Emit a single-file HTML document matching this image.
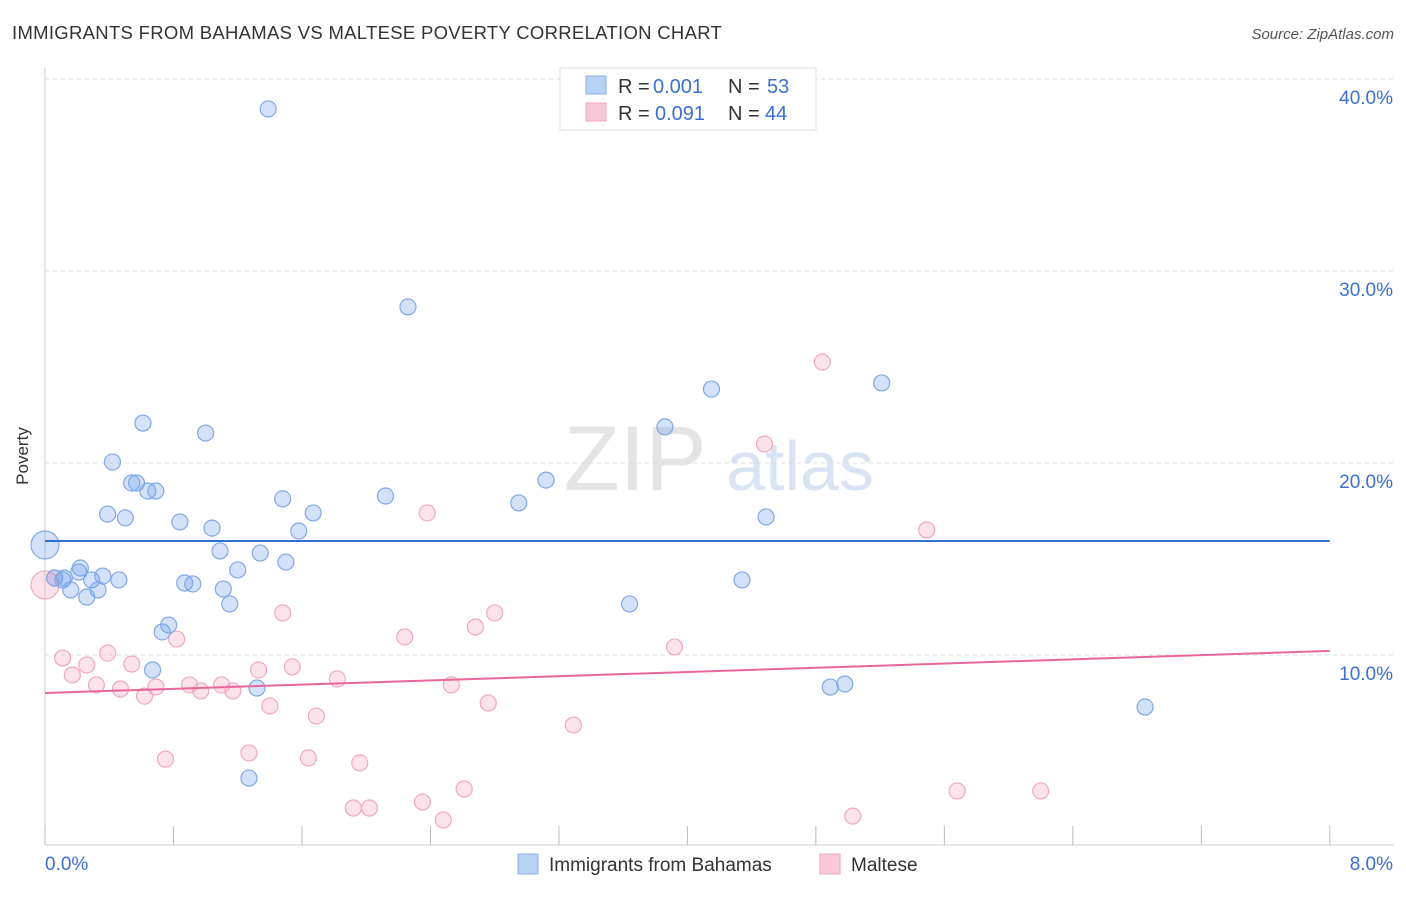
<!DOCTYPE html>
<html><head><meta charset="utf-8"><style>
body{margin:0;background:#fff;font-family:"Liberation Sans",sans-serif}
svg text{font-family:"Liberation Sans",sans-serif}
</style></head><body>
<svg id="c" width="1406" height="892" viewBox="0 0 1406 892">
<text x="12" y="39" font-size="18.5" letter-spacing="0.3" fill="#333">IMMIGRANTS FROM BAHAMAS VS MALTESE POVERTY CORRELATION CHART</text>
<text x="1394" y="39" font-size="15" fill="#555" font-style="italic" text-anchor="end">Source: ZipAtlas.com</text>
<text x="28" y="456" font-size="17" fill="#333" text-anchor="middle" transform="rotate(-90 28 456)">Poverty</text>
<g><text x="635" y="490" font-size="92" fill="#e4e4e4" font-family="Liberation Serif" text-anchor="middle">ZIP</text><text x="800" y="490" font-size="70" fill="#d8e4f4" text-anchor="middle">atlas</text></g>
<g id="grid"></g><g id="marks"></g>
<g>
<rect x="560" y="68" width="256" height="62" fill="#fff" stroke="#ddd"/>
<rect x="586" y="76" width="20" height="18" fill="#b8d2f4" stroke="#8ab0e8"/>
<text x="618" y="93" font-size="20" fill="#333">R =</text>
<text x="653" y="93" font-size="20" fill="#3b6fd0">0.001</text>
<text x="728" y="93" font-size="20" fill="#333">N =</text>
<text x="767" y="93" font-size="20" fill="#3b6fd0">53</text>
<rect x="586" y="103" width="20" height="18" fill="#f8c8d8" stroke="#f0a8c0"/>
<text x="618" y="120" font-size="20" fill="#333">R =</text>
<text x="655" y="120" font-size="20" fill="#3b6fd0">0.091</text>
<text x="728" y="120" font-size="20" fill="#333">N =</text>
<text x="765" y="120" font-size="20" fill="#3b6fd0">44</text>
</g>
<g>
<rect x="518" y="854" width="20" height="20" fill="#b8d2f4" stroke="#8ab0e8"/>
<text x="549" y="871" font-size="19" fill="#333">Immigrants from Bahamas</text>
<rect x="820" y="854" width="20" height="20" fill="#f8c8d8" stroke="#f0a8c0"/>
<text x="851" y="871" font-size="19" fill="#333">Maltese</text>
</g>
</svg>
<script>
const blueX=[0.00,0.06,0.11,0.16,0.12,0.21,0.22,0.26,0.29,0.33,0.36,0.39,0.42,0.46,0.50,0.54,0.57,0.61,0.64,0.69,0.73,0.77,0.67,0.84,0.87,0.92,1.00,1.04,1.09,1.11,1.15,1.20,1.27,1.32,1.34,1.39,1.48,1.50,1.58,1.67,2.12,2.26,2.95,3.12,3.64,3.86,4.15,4.34,4.49,4.89,4.98,5.21,6.85];
const blueY=[15.73,14.01,13.91,13.39,14.01,14.32,14.53,13.02,13.91,13.39,14.11,17.34,20.05,13.91,17.14,18.96,18.96,22.08,18.54,18.54,11.20,11.56,9.22,16.93,13.75,13.70,21.56,16.61,15.42,13.44,12.66,14.43,3.59,8.28,15.31,38.44,18.13,14.84,16.46,17.40,18.28,28.13,17.92,19.11,12.66,21.88,23.85,13.91,17.19,8.33,8.49,24.17,7.29];
const pinkX=[0.00,0.06,0.11,0.17,0.26,0.32,0.39,0.47,0.54,0.62,0.69,0.75,0.82,0.90,0.97,1.10,1.17,1.27,1.33,1.40,1.48,1.54,1.64,1.69,1.82,1.92,1.96,2.02,2.24,2.35,2.38,2.48,2.53,2.61,2.68,2.76,2.80,3.29,3.92,4.48,4.84,5.03,5.49,5.68,6.20];
const pinkY=[13.65,14.01,9.84,8.96,9.48,8.44,10.10,8.23,9.53,7.86,8.33,4.58,10.83,8.44,8.13,8.44,8.13,4.90,9.22,7.34,12.19,9.38,4.64,6.82,8.75,2.03,4.38,2.03,10.94,2.34,17.40,1.41,8.44,3.02,11.46,7.50,12.19,6.35,10.42,20.99,25.26,1.61,16.51,2.92,2.92];
const blueTrend=[15.94,0.0];
const pinkTrend=[8.02,0.274];
const yTicks=[10,20,30,40];
const xTickLabels=["0.0%","8.0%"];
const NS="http://www.w3.org/2000/svg";
const X=v=>45+v*160.6, Y=v=>847-v*19.2;
function mk(p,t,a){const e=document.createElementNS(NS,t);for(const k in a)e.setAttribute(k,a[k]);p.appendChild(e);return e;}
const g=document.getElementById('grid'),m=document.getElementById('marks');
let ax=mk(g,'line',{x1:45,y1:68,x2:45,y2:845,stroke:'#ccc'});


let bx=mk(g,'line',{x1:45,y1:845,x2:1394,y2:845,stroke:'#ccc'});


yTicks.forEach(t=>{
 const l=mk(g,'line',{x1:45,y1:Y(t),x2:1394,y2:Y(t),stroke:'#ddd','stroke-dasharray':'4,4'});
 
 
 const tx=mk(g,'text',{x:1393,y:Y(t)+25,'font-size':19,fill:'#3b6fd0','text-anchor':'end'});tx.textContent=t.toFixed(1)+'%';
 
 
});
for(let i=0;i<=10;i++){const l=mk(g,'line',{x1:X(i*0.8),y1:826,x2:X(i*0.8),y2:845,stroke:'#bbb'});
 
 }
[[0,'start',45],[8,'end',1393]].forEach((d,i)=>{const t=mk(g,'text',{x:d[2],y:870,'font-size':19,fill:'#3b6fd0','text-anchor':d[1]});t.textContent=xTickLabels[i];
 
 });
function pts(xs,ys,fill,stroke,name){xs.forEach((x,i)=>{const c=mk(m,'circle',{cx:X(x),cy:Y(ys[i]),r:x===0?14:8,fill:fill,stroke:stroke,'stroke-width':1.2});
 
 });}
pts(pinkX,pinkY,'rgba(245,160,190,0.3)','#f0a8c0','maltese-point');
pts(blueX,blueY,'rgba(110,160,235,0.3)','#7fa8e6','bahamas-point');
let bl=mk(m,'line',{x1:X(0),y1:Y(blueTrend[0]),x2:X(8),y2:Y(blueTrend[0]+blueTrend[1]*8),stroke:'#2f6fd6','stroke-width':2});


let pl=mk(m,'line',{x1:X(0),y1:Y(pinkTrend[0]),x2:X(8),y2:Y(pinkTrend[0]+pinkTrend[1]*8),stroke:'#e8679a','stroke-width':2});


</script>
</body></html>
